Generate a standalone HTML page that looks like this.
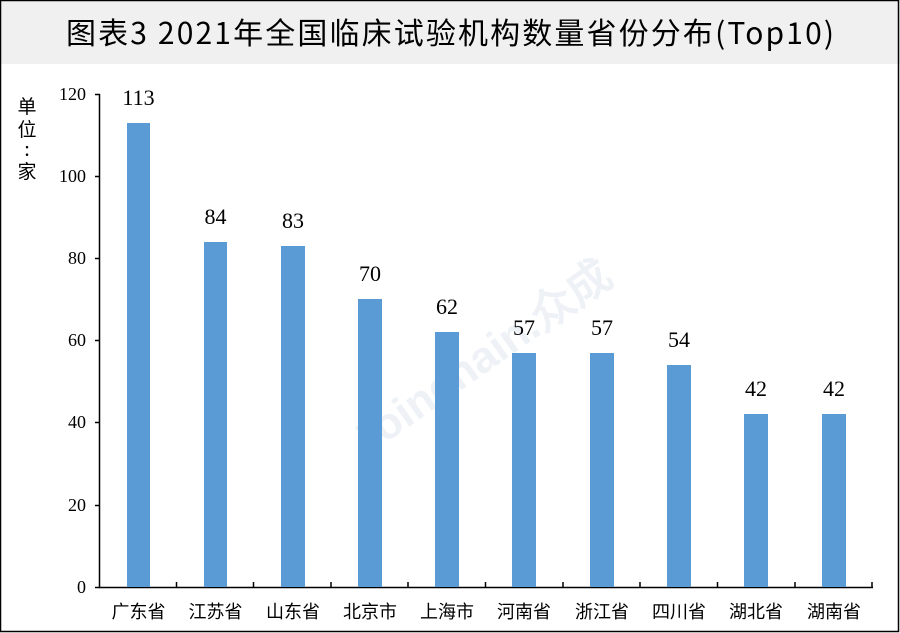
<!DOCTYPE html>
<html><head><meta charset="utf-8"><style>
html,body{margin:0;padding:0;background:#fff}
svg{display:block}
</style></head><body>
<svg width="900" height="633" viewBox="0 0 900 633" xmlns="http://www.w3.org/2000/svg">
<rect x="0" y="0" width="900" height="633" fill="#fff"/>
<rect x="0" y="0" width="900" height="64" fill="#f0f0f0"/>
<rect x="0.5" y="0.5" width="898" height="631" fill="none" stroke="#000" stroke-width="1.5"/>
<text x="66" y="44" textLength="768" lengthAdjust="spacing" font-family="'Noto Sans CJK SC','Liberation Sans',sans-serif" font-size="30" fill="#000">图表3  2021年全国临床试验机构数量省份分布(Top10)</text>
<g font-family="'Noto Sans CJK SC',sans-serif" font-size="19" fill="#000" text-anchor="middle">
<text x="27" y="113">单</text><text x="27" y="136">位</text><text x="27" y="156">:</text><text x="27" y="178">家</text>
</g>
<g stroke="#000" stroke-width="1.5" fill="none">
<line x1="99.5" y1="94" x2="99.5" y2="587.5"/>
<line x1="99" y1="587.5" x2="873" y2="587.5"/>
<line x1="95" y1="94.5" x2="100" y2="94.5"/>
<line x1="95" y1="176.5" x2="100" y2="176.5"/>
<line x1="95" y1="258.5" x2="100" y2="258.5"/>
<line x1="95" y1="340.5" x2="100" y2="340.5"/>
<line x1="95" y1="422.5" x2="100" y2="422.5"/>
<line x1="95" y1="505.5" x2="100" y2="505.5"/>
<line x1="95" y1="587.5" x2="100" y2="587.5"/>
<line x1="176.5" y1="582" x2="176.5" y2="588"/>
<line x1="253.5" y1="582" x2="253.5" y2="588"/>
<line x1="331" y1="582" x2="331" y2="588"/>
<line x1="408" y1="582" x2="408" y2="588"/>
<line x1="485.5" y1="582" x2="485.5" y2="588"/>
<line x1="563" y1="582" x2="563" y2="588"/>
<line x1="640" y1="582" x2="640" y2="588"/>
<line x1="717.5" y1="582" x2="717.5" y2="588"/>
<line x1="795" y1="582" x2="795" y2="588"/>
<line x1="872" y1="582" x2="872" y2="588"/>
</g>
<g font-family="'Liberation Serif',serif" font-size="18" fill="#000" text-anchor="end">
<text x="86" y="100">120</text><text x="86" y="182">100</text><text x="86" y="264">80</text><text x="86" y="346">60</text><text x="86" y="428">40</text><text x="86" y="511">20</text><text x="86" y="593">0</text>
</g>
<text x="490" y="370" transform="rotate(-35 490 370)" text-anchor="middle" font-family="'Liberation Sans',sans-serif" font-weight="bold" font-size="44" fill="#eef2f7">Joinchain.众成</text>
<g fill="#5b9bd5">
<rect x="127" y="123" width="23" height="464"/>
<rect x="204" y="242" width="23" height="345"/>
<rect x="281" y="246" width="24" height="341"/>
<rect x="358" y="299" width="24" height="288"/>
<rect x="435" y="332" width="24" height="255"/>
<rect x="512" y="353" width="24" height="234"/>
<rect x="590" y="353" width="24" height="234"/>
<rect x="667" y="365" width="24" height="222"/>
<rect x="744" y="414" width="24" height="173"/>
<rect x="822" y="414" width="24" height="173"/>
</g>
<g font-family="'Liberation Serif',serif" font-size="22" fill="#000" text-anchor="middle">
<text x="138.5" y="105">113</text><text x="215.5" y="224">84</text><text x="293" y="228">83</text><text x="370" y="281">70</text><text x="447" y="314">62</text><text x="524" y="335">57</text><text x="602" y="335">57</text><text x="679" y="347">54</text><text x="756" y="396">42</text><text x="834" y="396">42</text>
</g>
<g font-family="'Noto Sans CJK SC',sans-serif" font-size="18" fill="#000" text-anchor="middle">
<text x="138.5" y="618">广东省</text><text x="215.5" y="618">江苏省</text><text x="293" y="618">山东省</text><text x="370" y="618">北京市</text><text x="447" y="618">上海市</text><text x="524" y="618">河南省</text><text x="602" y="618">浙江省</text><text x="679" y="618">四川省</text><text x="756" y="618">湖北省</text><text x="834" y="618">湖南省</text>
</g>
</svg>
</body></html>
